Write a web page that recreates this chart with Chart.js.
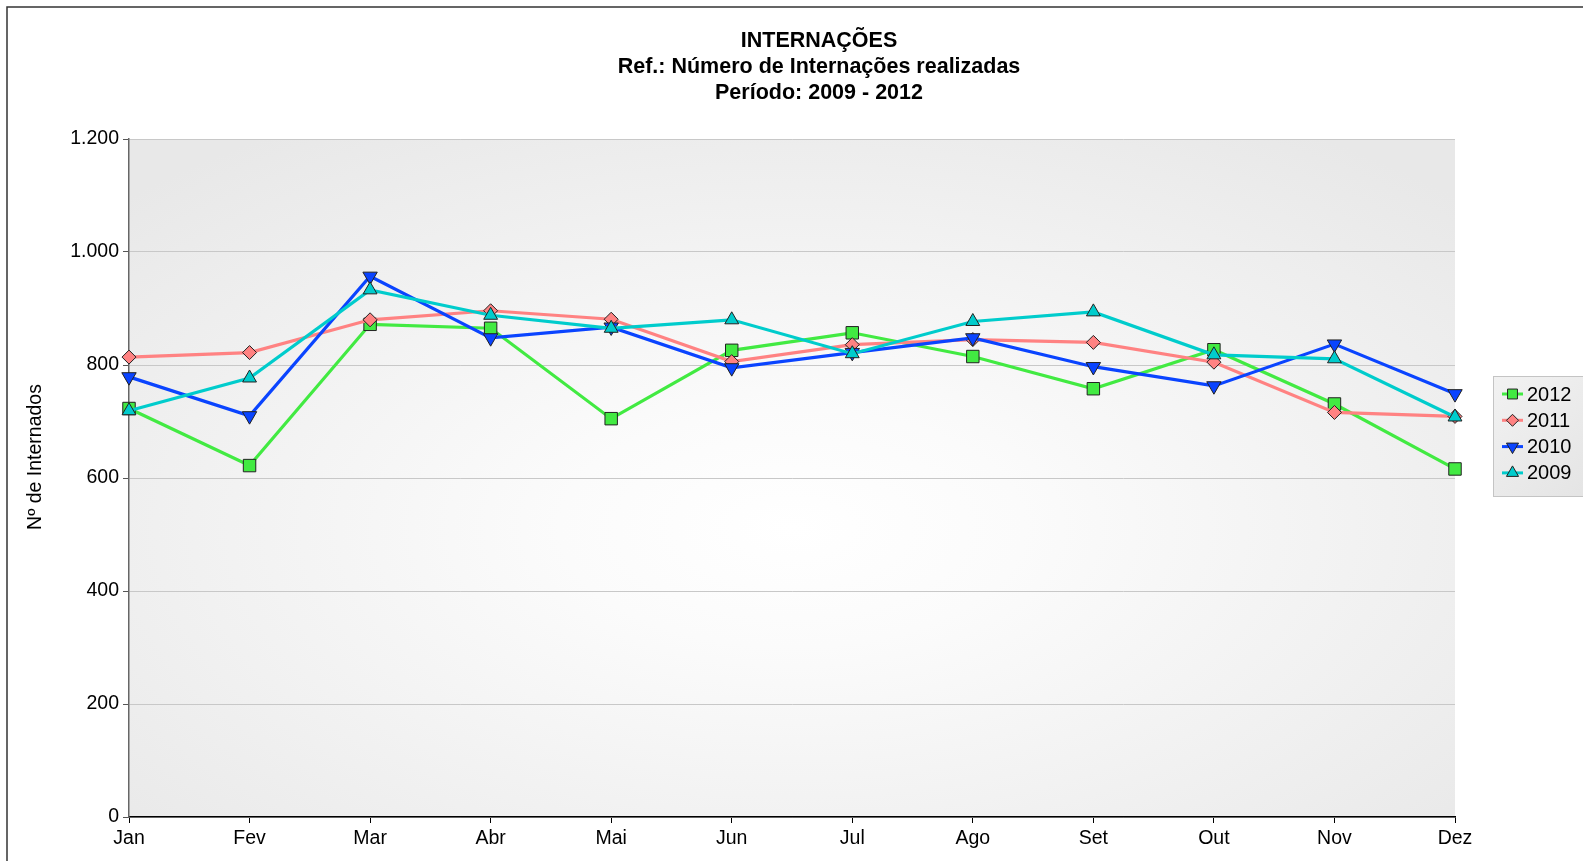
<!DOCTYPE html>
<html>
<head>
<meta charset="utf-8">
<script src="https://cdn.jsdelivr.net/npm/chart.js@4"></script>
<style>
  body { margin: 0; background: #fff; }
  canvas { display: block; }
</style>
</head>
<body>
<canvas id="internacoes" width="1583" height="861"></canvas>
<script>
months = ['Jan', 'Fev', 'Mar', 'Abr', 'Mai', 'Jun', 'Jul', 'Ago', 'Set', 'Out', 'Nov', 'Dez'];
years = ['2012', '2011', '2010', '2009'];
d2012 = [723, 622, 872, 865, 705, 826, 857, 815, 758, 827, 731, 616];
d2011 = [814, 822, 880, 896, 881, 806, 836, 845, 840, 805, 716, 709];
d2010 = [779, 710, 957, 848, 867, 795, 822, 848, 797, 763, 837, 749];
d2009 = [719, 777, 933, 888, 865, 880, 820, 877, 894, 818, 811, 708];
titleLines = ['INTERNAÇÕES', 'Ref.: Número de Internações realizadas', 'Período: 2009 - 2012'];
yTitle = 'Nº de Internados';

const FONT = '"Liberation Sans", Arial, sans-serif';

function fmt(v){
  return String(v).replace(/\B(?=(\d{3})+(?!\d))/g, '.');
}

// background, frame, titles and legend
const decor = {
  id: 'decor',
  beforeDraw(chart){
    const ctx = chart.ctx;
    const a = chart.chartArea;
    ctx.save();
    ctx.fillStyle = '#fff';
    ctx.fillRect(0, 0, chart.width, chart.height);

    // plot gradient (elliptic)
    const cx = (a.left + a.right) / 2, cy = (a.top + a.bottom) / 2 + 50;
    const rx = (a.right - a.left) / 2, ry = (a.bottom - a.top) / 2;
    ctx.save();
    ctx.beginPath();
    ctx.rect(a.left, a.top, a.right - a.left, a.bottom - a.top);
    ctx.clip();
    ctx.translate(cx, cy);
    ctx.scale(rx / ry, 1);
    const g = ctx.createRadialGradient(0, 0, 0, 0, 0, ry * 1.4);
    g.addColorStop(0, '#ffffff');
    g.addColorStop(0.25, '#fbfbfb');
    g.addColorStop(1, '#e8e8e8');
    ctx.fillStyle = g;
    ctx.fillRect(-ry * 2, -ry * 2, ry * 4, ry * 4);
    ctx.restore();

    // outer frame
    ctx.strokeStyle = '#333';
    ctx.lineWidth = 1.5;
    ctx.beginPath();
    ctx.moveTo(7, chart.height);
    ctx.lineTo(7, 7);
    ctx.lineTo(chart.width, 7);
    ctx.stroke();
    ctx.restore();
  },
  afterDraw(chart){
    const ctx = chart.ctx;
    ctx.save();
    ctx.fillStyle = '#000';
    ctx.textAlign = 'center';
    ctx.textBaseline = 'middle';
    ctx.font = 'bold 21.5px ' + FONT;
    titleLines.forEach((t, i) => ctx.fillText(t, 819, 41 + i * 26));

    // y axis title
    ctx.save();
    ctx.translate(36, 457);
    ctx.rotate(-Math.PI / 2);
    ctx.font = '19.5px ' + FONT;
    ctx.fillText(yTitle, 0, 0);
    ctx.restore();

    // legend
    const lx = 1493, ly = 376, lw = 100, lh = 120;
    const lg = ctx.createLinearGradient(lx, ly, lx + lw, ly + lh);
    lg.addColorStop(0, '#f2f2f2');
    lg.addColorStop(1, '#e4e4e4');
    ctx.fillStyle = lg;
    ctx.fillRect(lx, ly, lw, lh);
    ctx.strokeStyle = '#c4c4c4';
    ctx.lineWidth = 1;
    ctx.strokeRect(lx + 0.5, ly + 0.5, lw, lh);

    chart.data.datasets.forEach((ds, i) => {
      const y = 394 + i * 26.3;
      ctx.strokeStyle = ds.borderColor;
      ctx.lineWidth = 3;
      ctx.beginPath();
      ctx.moveTo(1502, y);
      ctx.lineTo(1523, y);
      ctx.stroke();
      ctx.fillStyle = ds.pointBackgroundColor;
      ctx.strokeStyle = '#222';
      ctx.lineWidth = 1;
      Chart.helpers.drawPoint(ctx, {
        pointStyle: ds.pointStyle,
        radius: ds.pointStyle === 'rect' ? 7 : (ds.pointStyle === 'rectRot' ? 6 : 7),
        rotation: ds.pointRotation || 0,
        borderWidth: 1
      }, 1512.5, y);
      ctx.fillStyle = '#000';
      ctx.textAlign = 'left';
      ctx.font = '20px ' + FONT;
      ctx.fillText(ds.label, 1527, y + 1);
    });
    ctx.restore();
  }
};

function makeSet(label, data, color, fill, style, rot, order, radius){
  return {
    label: label,
    data: data,
    borderColor: color,
    backgroundColor: fill,
    pointBackgroundColor: fill,
    pointBorderColor: '#222',
    pointBorderWidth: 1,
    pointStyle: style,
    pointRotation: rot,
    pointRadius: radius,
    pointHoverRadius: radius,
    borderWidth: 3.2,
    tension: 0,
    order: order
  };
}

var ctx = document.getElementById('internacoes').getContext('2d');
var lineChart = new Chart(ctx, {
  type: 'line',
  data: {
    labels: months,
    datasets: [
      makeSet(years[0], d2012, '#42ea42', '#42ea42', 'rect', 0, 3, 8.8),
      makeSet(years[1], d2011, '#ff8282', '#ff8282', 'rectRot', 0, 2, 7),
      makeSet(years[2], d2010, '#0a44ff', '#0a44ff', 'triangle', 180, 1, 8.3),
      makeSet(years[3], d2009, '#00cccc', '#00cccc', 'triangle', 0, 0, 8)
    ]
  },
  options: {
    responsive: false,
    devicePixelRatio: 1,
    animation: false,
    layout: { padding: { top: 139, right: 128, bottom: 0, left: 0 } },
    plugins: {
      legend: { display: false },
      title: { display: false },
      tooltip: { enabled: false }
    },
    scales: {
      x: {
        offset: false,
        afterFit(s){ s.height = 44; },
        grid: { drawOnChartArea: false, tickColor: '#000', tickLength: 6 },
        border: { color: '#000', width: 1.5 },
        ticks: { color: '#000', font: { family: FONT, size: 19.5 }, padding: 4, maxRotation: 0, autoSkip: false }
      },
      y: {
        min: 0,
        max: 1200,
        afterFit(s){ s.width = 129; },
        grid: { color: '#c8c8c8', tickColor: '#555', tickLength: 6 },
        border: { color: '#666', width: 1.5 },
        ticks: {
          stepSize: 200,
          color: '#000',
          padding: 4,
          font: { family: FONT, size: 19.5 },
          callback: v => fmt(v)
        }
      }
    }
  },
  plugins: [decor]
});
</script>
</body>
</html>
